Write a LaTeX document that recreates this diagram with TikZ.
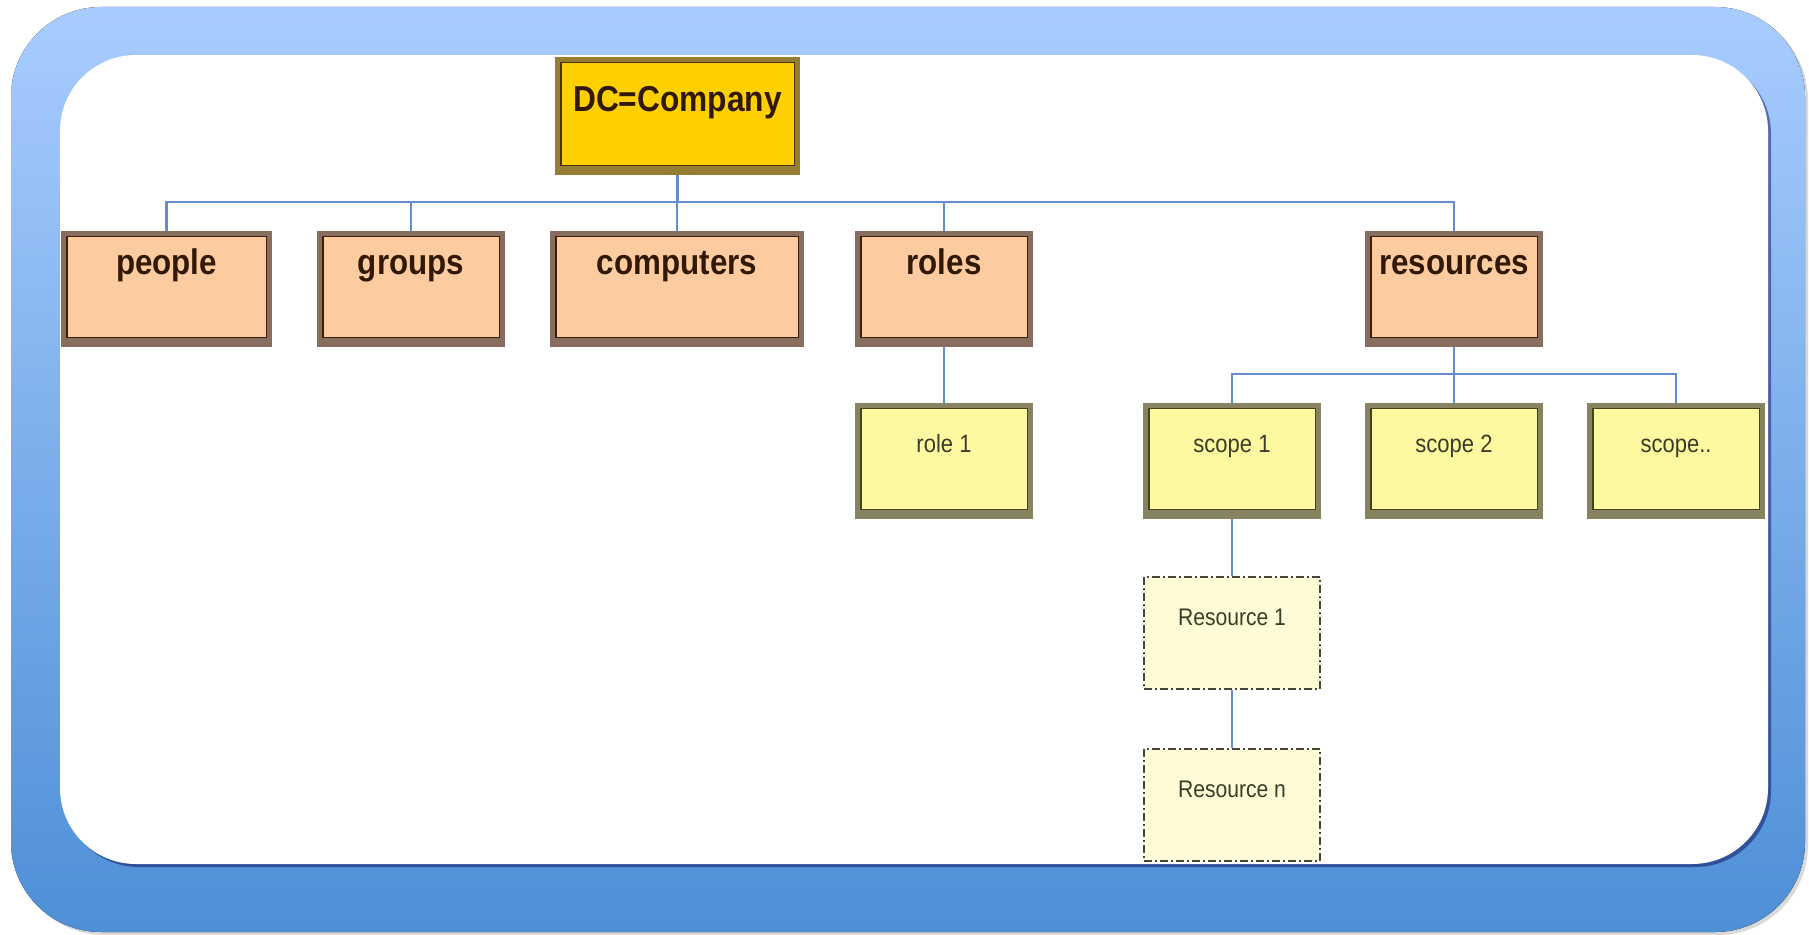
\documentclass[tikz,border=0pt]{standalone}
\usepackage{fontspec}
\setmainfont{Liberation Sans}[FakeStretch=0.88]
\usetikzlibrary{shadows}

\definecolor{frametop}{RGB}{168,204,255}
\definecolor{framebottom}{RGB}{78,143,214}
\definecolor{dcfill}{RGB}{255,208,0}
\definecolor{dcband}{RGB}{150,125,50}
\definecolor{dcline}{RGB}{70,50,10}
\definecolor{unitfill}{RGB}{252,204,160}
\definecolor{unitband}{RGB}{135,110,95}
\definecolor{unitline}{RGB}{60,30,10}
\definecolor{scopefill}{RGB}{252,249,160}
\definecolor{scopeband}{RGB}{135,130,95}
\definecolor{scopeline}{RGB}{70,65,30}
\definecolor{itemfill}{RGB}{253,252,215}
\definecolor{itemline}{RGB}{70,70,55}
\definecolor{textdark}{RGB}{50,25,5}
\definecolor{textsoft}{RGB}{60,60,40}
\definecolor{linkblue}{RGB}{100,140,210}

\tikzset{
  orgbox/.style n args={3}{rectangle, inner sep=0pt, fill=#1, draw=#2, line width=2.5pt,
    path picture={
      \fill[#2] (path picture bounding box.south west) rectangle ([yshift=3.5pt]path picture bounding box.south east);
      \draw[#3, line width=0.8pt] ([shift={(1.6pt,-1.6pt)}]path picture bounding box.north west)
        rectangle ([shift={(-1.6pt,3.5pt)}]path picture bounding box.south east);
    }},
  dcbox/.style={orgbox={dcfill}{dcband}{dcline}, minimum width=120pt, minimum height=56.5pt,
    text height=26.25pt, text depth=30.25pt, font=\fontsize{18}{20}\selectfont\bfseries, text=textdark},
  unitbox/.style={orgbox={unitfill}{unitband}{unitline}, minimum height=55.5pt,
    text height=20.75pt, text depth=34.75pt, font=\fontsize{17.8}{20}\selectfont\bfseries, text=textdark},
  scopebox/.style={orgbox={scopefill}{scopeband}{scopeline}, minimum width=86.5pt, minimum height=55.5pt,
    text height=23.25pt, text depth=32.25pt, font=\fontsize{12.5}{14}\selectfont, text=textsoft},
  itembox/.style={rectangle, inner sep=0pt, fill=itemfill, draw=itemline, line width=1pt,
    dash pattern=on 4pt off 1.5pt on 1pt off 1.5pt, minimum width=88pt, minimum height=56pt,
    text height=24pt, text depth=32pt, font=\fontsize{12}{14}\selectfont, text=textsoft},
  link/.style={draw=linkblue, line width=1.1pt},
}

\begin{document}
\begin{tikzpicture}[x=0.5pt,y=-0.5pt]
\useasboundingbox (0,0) rectangle (1809,935);

% blue frame and white sheet
\fill[top color=frametop, bottom color=framebottom, rounded corners=45pt,
  drop shadow={opacity=0.3, shadow xshift=1.5pt, shadow yshift=-1.5pt}]
  (11,7) rectangle (1805,932);
\fill[white, rounded corners=38pt,
  drop shadow={color=black!70!blue, opacity=0.45, shadow xshift=1.5pt, shadow yshift=-1.5pt}]
  (60,55) rectangle (1768,864);

% root
\node[dcbox] (dc) at (677.5,116) {DC=Company};

% first level
\node[unitbox, minimum width=103pt] (people) at (166.5,289) {people};
\node[unitbox, minimum width=91.5pt] (groups) at (411,289) {groups};
\node[unitbox, minimum width=124.5pt] (computers) at (677,289) {computers};
\node[unitbox, minimum width=86.5pt] (roles) at (944,289) {roles};
\node[unitbox, minimum width=86.5pt] (resources) at (1454,289) {resources};

% second level
\node[scopebox] (role1) at (944,461) {role 1};
\node[scopebox] (scope1) at (1232,461) {scope 1};
\node[scopebox] (scope2) at (1454,461) {scope 2};
\node[scopebox] (scopen) at (1676,461) {scope..};

% resources under scope 1
\node[itembox] (res1) at (1232,633) {Resource 1};
\node[itembox] (resn) at (1232,805) {Resource n};

\coordinate (bus) at (0,202);
\coordinate (scopebus) at (0,374);

\draw[link] (dc.south) -- (dc |- bus);
\draw[link] (people.north) |- (bus -| resources) -- (resources.north);
\foreach \n in {groups,computers,roles}
  \draw[link] (\n.north) -- (\n |- bus);

\draw[link] (roles.south) -- (role1.north);

\draw[link] (resources.south) -- (resources |- scopebus);
\draw[link] (scope1.north) |- (scopebus -| scopen) -- (scopen.north);
\draw[link] (scope2.north) -- (scope2 |- scopebus);

\draw[link] (scope1.south) -- (res1.north);
\draw[link] (res1.south) -- (resn.north);
\end{tikzpicture}
\end{document}
